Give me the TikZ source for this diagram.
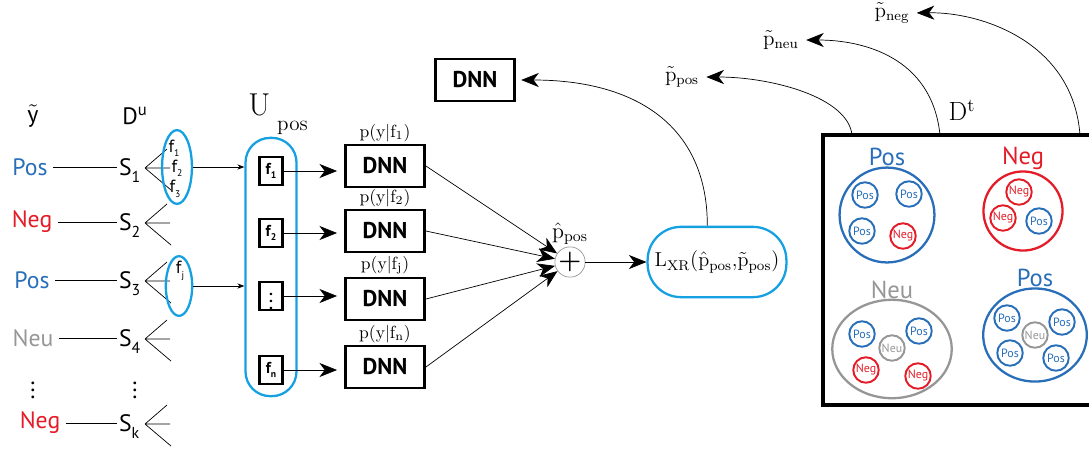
\documentclass[tikz,border=0pt]{standalone}
\usepackage{fontspec}
\setsansfont{PT Sans}
\usetikzlibrary{positioning,arrows.meta,shapes.geometric}
\definecolor{posblue}{RGB}{40,110,185}
\definecolor{negred}{RGB}{228,28,40}
\definecolor{neugray}{RGB}{150,150,150}
\definecolor{ringcyan}{RGB}{20,160,225}
\newcommand{\lowsub}[1]{\raisebox{-0.6ex}{\fontsize{9}{9}\selectfont #1}}
\newcommand{\tinysub}[1]{\raisebox{-0.5ex}{\fontsize{5.5}{6}\selectfont #1}}
\begin{document}
\begin{tikzpicture}[x=0.02cm,y=-0.02cm,
    sans/.style={font=\sffamily\fontsize{13.5}{15}\selectfont,inner sep=1pt},
    serif/.style={font=\fontsize{#1}{#1}\selectfont,inner sep=1pt},
    ftext/.style={font=\sffamily\fontsize{10}{10}\selectfont,inner sep=0pt},
    dnnbox/.style={draw,line width=1.6pt,minimum width=45pt,minimum height=24pt,inner sep=0pt,font=\sffamily\bfseries\fontsize{13}{15}\selectfont},
    featbox/.style={draw,line width=1.3pt,minimum width=13pt,minimum height=16pt,inner sep=0pt,font=\sffamily\bfseries\fontsize{9}{10}\selectfont},
    cyanring/.style={draw=ringcyan,line width=1.3pt,inner sep=0pt},
    group/.style={draw=#1,line width=1.3pt,inner sep=0pt},
    ring/.style={circle,draw,line width=1.1pt,minimum size=14.5pt,inner sep=0pt,font=\sffamily\fontsize{6.8}{7}\selectfont},
    posring/.style={ring,draw=posblue,text=posblue},
    negring/.style={ring,draw=negred,text=negred},
    neuring/.style={ring,draw=neugray,text=neugray},
    bigarr/.style={-{Stealth[length=10pt,width=8pt,inset=3pt]},thin},
    smallarr/.style={-{Stealth[length=4pt,width=3pt]},thin}]
\useasboundingbox (0,0) rectangle (1089,454);

\node[sans] (ylab) at (33,116) {$\tilde{\textsf{y}}$};
\node[sans] (dulab) at (135,116) {D\textsuperscript{u}};
\node[serif=18] (ulab) at (278,114) {U\hspace{4pt}\raisebox{-1.1ex}{\fontsize{12}{12}\selectfont pos}};

\foreach \i/\t/\c/\x/\y in {1/Pos/posblue/30/167,2/Neg/negred/32/222,3/Pos/posblue/32/280,4/Neu/neugray/33/338,k/Neg/negred/40/423}{
  \node[sans,text=\c] (y\i) at (\x,\y) {\t};
  \node[sans,anchor=base west] (s\i) at (117,\y+8) {S\lowsub{\i}};
  \coordinate (a\i) at (145,\y+1);
  \draw[thin,shorten <=2pt] (y\i.east) -- (y\i.east -| s\i.west);
  \draw[thin] (a\i) -- +(22,-19) (a\i) -- +(25,0) (a\i) -- +(26,22);
}
\node[sans] (ydots) at (33,385) {$\vdots$};
\node[sans] (sdots) at (135,385) {$\vdots$};

\node[ellipse,cyanring,minimum width=17pt,minimum height=42pt] (e1) at (177,167) {};
\node[ellipse,cyanring,minimum width=15pt,minimum height=34pt] (e2) at (179,286) {};
\node[ftext] (f1t) at (174,148) {f\tinysub{1}};
\node[ftext] (f2t) at (177,168) {f\tinysub{2}};
\node[ftext] (f3t) at (175,189) {f\tinysub{3}};
\node[ftext] (fjt) at (180,271) {f\tinysub{j}};

\node[cyanring,rounded corners=14pt,minimum width=29pt,minimum height=147pt] (upos) at (271,267) {};
\draw[smallarr] (e1.east) -- (e1.east -| upos.west);
\draw[smallarr] (e2.east) -- (e2.east -| upos.west);

\node[circle,serif=15,draw=neugray,thin,minimum size=14pt,inner sep=0pt] (plus) at (570,262) {\textbf{+}};
\node[serif=12.5,above=0pt of plus] (phat) {$\hat{\mathrm{p}}_{\mathrm{pos}}$};

\foreach \n/\t/\fy/\dy/\sb in {1/f\tinysub{1}/171/166/1,2/f\tinysub{2}/233/231/2,3/$\vdots$/296/299/j,4/f\tinysub{n}/370/367/n}{
  \node[featbox] (f\n) at (271,\fy) {\t};
  \node[dnnbox] (d\n) at (385,\dy) {DNN};
  \node[serif=10,above=0pt of d\n] (p\n) {$\mathrm{p(y|f_{\sb})}$};
  \draw[bigarr,shorten >=4pt] (f\n.east) -- (f\n.east -| d\n.west);
  \draw[bigarr] (d\n.east) -- (plus);
}

\node[cyanring,serif=11.5,rounded corners=19pt,minimum width=79pt,minimum height=40pt] (loss) at (717,262)
  {$\mathrm{L}_{\mathrm{XR}}(\hat{\mathrm{p}}_{\mathrm{pos}}{,}\tilde{\mathrm{p}}_{\mathrm{pos}})$};
\draw[bigarr] (plus) -- (loss);
\node[dnnbox] (dtop) at (475,80) {DNN};
\draw[bigarr,shorten >=3pt] ([xshift=-5.5pt]loss.north) .. controls +(0,-100) and +(120,0) .. (dtop.east);

\begin{scope}
  \clip (0,0) rectangle (1089,454);
  \draw[line width=1.8pt] (1130,135) -- (823,135) -- (823,405) -- (1130,405);
\end{scope}
\node[serif=15] (dtlab) at (962,110) {$\mathrm{D}^{\mathrm{t}}$};
\node[serif=12] (ppos) at (682,77) {$\tilde{\mathrm{p}}_{\mathrm{pos}}$};
\node[serif=12] (pneu) at (781,40) {$\tilde{\mathrm{p}}_{\mathrm{neu}}$};
\node[serif=12] (pneg) at (892,13) {$\tilde{\mathrm{p}}_{\mathrm{neg}}$};
\coordinate (t1) at (852,135);
\coordinate (t2) at (940,135);
\coordinate (t3) at (1080,135);
\draw[bigarr,shorten >=3pt] (t1) .. controls +(-4,-38) and +(70,0) .. (ppos.east);
\draw[bigarr,shorten >=3pt] (t2) .. controls +(-8,-78) and +(62,0) .. (pneu.east);
\draw[bigarr,shorten >=3pt] (t3) .. controls +(-7,-93) and +(70,-1) .. (pneg.east);

\node[circle,group=posblue,minimum size=54pt] (gpos) at (887,215) {};
\node[circle,group=negred,minimum size=45pt] (gneg) at (1023,211) {};
\node[ellipse,group=neugray,minimum width=68pt,minimum height=56pt] (gneu) at (892,349) {};
\node[ellipse,group=posblue,minimum width=59pt,minimum height=53pt] (gpos2) at (1035,335) {};
\node[sans,text=posblue,font=\sffamily\fontsize{14}{15}\selectfont,above=-1pt of gpos] (gposlab) {Pos};
\node[sans,text=negred,font=\sffamily\fontsize{14}{15}\selectfont,above=-1pt of gneg] (gneglab) {Neg};
\node[sans,text=neugray,font=\sffamily\fontsize{14}{15}\selectfont,above=-1pt of gneu] (gneulab) {Neu};
\node[sans,text=posblue,font=\sffamily\fontsize{14}{15}\selectfont,above=-1pt of gpos2] (gpos2lab) {Pos};

\foreach \s/\t/\x/\y [count=\k] in {posring/Pos/865/195,posring/Pos/909/194,posring/Pos/862/231,negring/Neg/903/236,
    negring/Neg/1019/192,negring/Neg/1003/218,posring/Pos/1039/221,
    posring/Pos/862/334,posring/Pos/919/331,neuring/Neu/892/348,negring/Neg/866/370,negring/Neg/918/376,
    posring/Pos/1007/318,posring/Pos/1062/322,neuring/Neu/1035/335,posring/Pos/1010/353,posring/Pos/1056/358}
  \node[\s] (r\k) at (\x,\y) {\t};
\end{tikzpicture}
\end{document}
